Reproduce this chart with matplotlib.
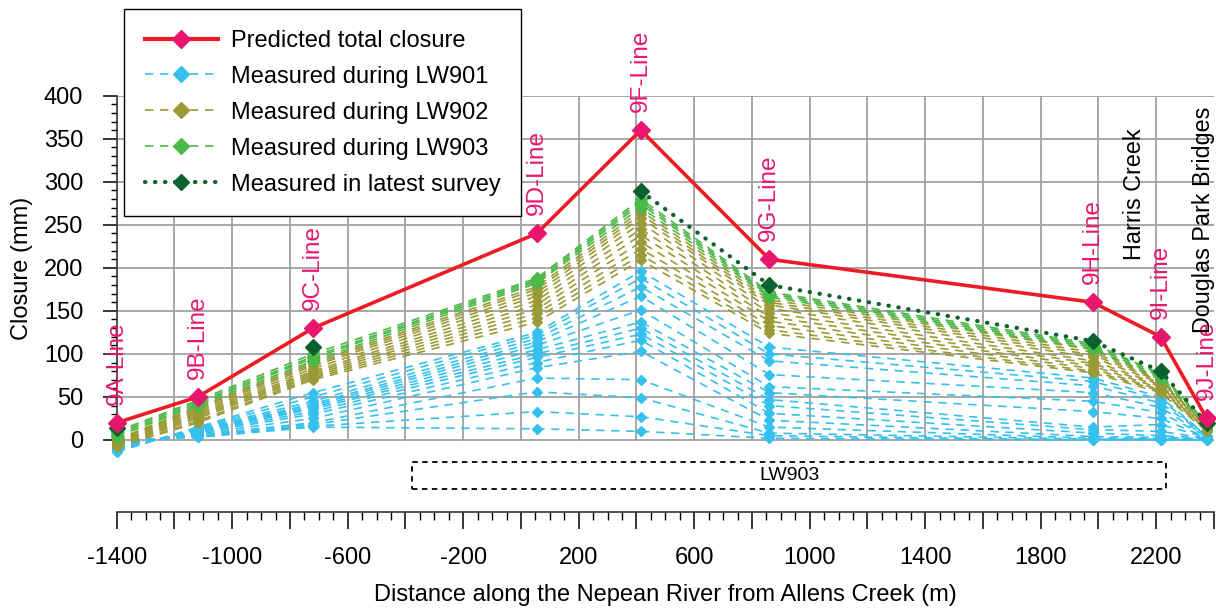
import numpy as np
import matplotlib
matplotlib.use("Agg")
import matplotlib.pyplot as plt
from matplotlib.lines import Line2D
from matplotlib.patches import Rectangle
from matplotlib.ticker import MultipleLocator

plt.rcParams['font.family'] = ['Liberation Sans', 'DejaVu Sans']

# ---------------- data ----------------
line_names = ["9A-Line", "9B-Line", "9C-Line", "9D-Line", "9F-Line",
              "9G-Line", "9H-Line", "9I-Line", "9J-Line"]
line_x = [-1400, -1120, -720, 55, 415, 860, 1980, 2215, 2375]

predicted = [20, 50, 130, 240, 360, 210, 160, 120, 25]

lw901 = [
    [0, 3, 15, 13, 10, 2, 0, 0, 0],
    [-2, 4, 16, 33, 27, 5, 0, 0, 0],
    [-3, 5, 18, 56, 49, 8, 1, 1, 0],
    [-4, 6, 20, 72, 70, 15, 2, 2, 1],
    [-5, 7, 25, 84, 103, 23, 4, 3, 1],
    [-6, 8, 30, 90, 116, 31, 8, 5, 2],
    [-7, 9, 33, 96, 123, 40, 12, 10, 2],
    [-8, 10, 36, 100, 130, 47, 15, 18, 3],
    [-9, 10, 38, 105, 137, 55, 33, 25, 3],
    [-10, 11, 40, 110, 151, 62, 45, 32, 4],
    [-11, 12, 42, 114, 167, 76, 55, 38, 4],
    [-12, 13, 45, 118, 178, 92, 63, 43, 5],
    [-13, 14, 50, 122, 188, 100, 68, 47, 5],
    [-14, 15, 55, 125, 196, 108, 72, 50, 5],
]

lw902 = [
    [-8, 20, 70, 137, 209, 124, 78, 55, 10],
    [-7, 22, 72, 142, 215, 128, 80, 57, 11],
    [-6, 25, 74, 147, 222, 133, 83, 58, 12],
    [-5, 27, 76, 152, 230, 138, 86, 60, 13],
    [-4, 29, 78, 157, 238, 143, 89, 62, 14],
    [-3, 31, 80, 162, 245, 148, 92, 64, 15],
    [-2, 33, 83, 167, 252, 153, 96, 66, 16],
    [-1, 35, 86, 171, 258, 157, 99, 68, 17],
    [0, 37, 88, 175, 262, 160, 102, 69, 17],
    [1, 38, 90, 178, 266, 163, 105, 70, 18],
]

lw903 = [
    [4, 40, 92, 182, 270, 166, 106, 72, 18],
    [6, 42, 95, 184, 274, 168, 108, 74, 19],
    [8, 44, 97, 186, 277, 170, 110, 76, 19],
    [10, 46, 100, 188, 280, 172, 112, 77, 20],
]

latest = [14, np.nan, 108, np.nan, 289, 180, 115, 80, 20]

landmark_names = ["Harris Creek", "Douglas Park Bridges"]
landmark_x = [2124, 2363]
landmark_y = [209, 124]

lw903_box = (-377, 2235)   # panel extent along the river
lw903_label = "LW903"

legend_labels = ["Predicted total closure", "Measured during LW901",
                 "Measured during LW902", "Measured during LW903",
                 "Measured in latest survey"]

# ---------------- style ----------------
RED = "#ED1C24"
PINK = "#E8176D"
BLUE = "#35C0EE"
OLIVE = "#9A9A36"
GREEN = "#4CB848"
DKGREEN = "#0B6130"
GRID = "#A0A0A0"
FS = 17

W, H = 1216, 609
fig = plt.figure(figsize=(W / 100, H / 100), dpi=100)
left_px, right_px, top_px, bot_px = 116.7, 1214, 95.7, 512
zero_px = 440
ax = fig.add_axes([left_px / W, 1 - bot_px / H, (right_px - left_px) / W,
                   (bot_px - top_px) / H])
ymin = -(bot_px - zero_px) / ((zero_px - top_px) / 400)
ax.set_xlim(-1400, 2400)
ax.set_ylim(ymin, 400)

# grid
for yv in range(0, 401, 50):
    ax.plot([-1400, 2400], [yv, yv], color=GRID, lw=1.3, zorder=0.5)
for xv in range(-1200, 2201, 200):
    ax.plot([xv, xv], [0, 400], color=GRID, lw=1.3, zorder=0.5)

dash = (0, (5, 4))
for s in lw901:
    ax.plot(line_x, s, color=BLUE, lw=1.2, ls=dash, marker='D', ms=5.5,
            mec=BLUE, zorder=2, clip_on=False)
for s in lw902:
    ax.plot(line_x, s, color=OLIVE, lw=1.2, ls=dash, marker='D', ms=5.5,
            mec=OLIVE, zorder=3, clip_on=False)
for s in lw903:
    ax.plot(line_x, s, color=GREEN, lw=1.2, ls=dash, marker='D', ms=6,
            mec=GREEN, zorder=4, clip_on=False)
ax.plot(line_x, latest, color=DKGREEN, lw=3, ls=(0, (0.1, 2.3)),
        dash_capstyle='round', marker='D', ms=8.5, mec=DKGREEN, zorder=5,
        clip_on=False)
ax.plot(line_x, predicted, color=RED, lw=2.6, marker='D', ms=9, mfc=PINK,
        mec=PINK, zorder=6, clip_on=False)

for name, xv, yv in zip(line_names, line_x, predicted):
    ax.annotate(name, (xv, yv), xytext=(0, 13), textcoords='offset points',
                rotation=90, ha='center', va='bottom', color=PINK,
                fontsize=17.5, zorder=7, annotation_clip=False)

for name, xv, yv in zip(landmark_names, landmark_x, landmark_y):
    ax.text(xv, yv, name, rotation=90, ha='center', va='bottom',
            color='black', fontsize=16.8, zorder=7)

# LW903 panel box
ax.add_patch(Rectangle((lw903_box[0], -56.9), lw903_box[1] - lw903_box[0],
                       31.4, fill=False, ls=(0, (3, 2.5)), lw=1.3,
                       ec='black', zorder=3))
ax.text((lw903_box[0] + lw903_box[1]) / 2, -41, lw903_label, ha='center',
        va='center', fontsize=14)

# spines / ticks
for sp in ['top', 'right']:
    ax.spines[sp].set_visible(False)
ax.spines['left'].set_bounds(0, 400)
ax.spines['left'].set_color('#333333')
ax.spines['bottom'].set_color('#333333')
ax.spines['left'].set_linewidth(1.2)
ax.spines['bottom'].set_linewidth(1.2)

ax.set_xticks(np.arange(-1400, 2401, 200))
ax.set_xticklabels([str(v) if (v + 1400) % 400 == 0 else ''
                    for v in np.arange(-1400, 2401, 200)])
ax.xaxis.set_minor_locator(MultipleLocator(50))
ax.set_yticks(np.arange(0, 401, 50))
ax.set_yticks(np.arange(0, 401, 10), minor=True)
ax.tick_params(axis='x', which='major', length=12, width=1.1, pad=13,
               labelsize=17, direction='out')
ax.tick_params(axis='x', which='minor', length=5.5, width=1.0,
               direction='out')
ax.tick_params(axis='y', which='major', length=10, width=1.1, pad=14,
               labelsize=17, direction='out')
ax.tick_params(axis='y', which='minor', length=4, width=1.0,
               direction='out')

ax.set_xlabel("Distance along the Nepean River from Allens Creek (m)",
              fontsize=17, labelpad=11)
fig.text(22 / W, 1 - 268 / H, "Closure (mm)", rotation=90, ha='center',
         va='center', fontsize=17)

# legend
handles = [
    Line2D([], [], color=RED, lw=3, marker='D', ms=9, mfc=PINK, mec=PINK),
    Line2D([], [], color=BLUE, lw=1.2, ls=dash, marker='D', ms=8.5, mec=BLUE),
    Line2D([], [], color=OLIVE, lw=1.2, ls=dash, marker='D', ms=8.5, mec=OLIVE),
    Line2D([], [], color=GREEN, lw=1.2, ls=dash, marker='D', ms=8.5, mec=GREEN),
    Line2D([], [], color=DKGREEN, lw=3, ls=(0, (0.1, 2.3)),
           dash_capstyle='round', marker='D', ms=8.5, mec=DKGREEN),
]
leg = ax.legend(handles, legend_labels, loc='upper left',
                bbox_to_anchor=(124 / W, 1 - 9 / H),
                bbox_transform=fig.transFigure, borderaxespad=0,
                fontsize=FS, frameon=True, fancybox=False, framealpha=1,
                edgecolor='black', handlelength=3.1, handletextpad=0.55,
                labelspacing=0.59, borderpad=0.88)
leg.get_frame().set_linewidth(1.0)
leg.set_zorder(10)

fig.savefig("out.png", dpi=100)
